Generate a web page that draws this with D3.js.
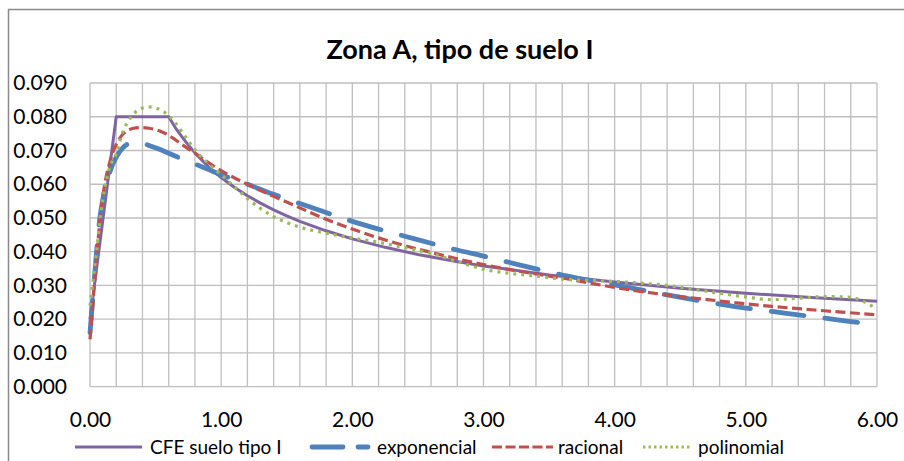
<!DOCTYPE html>
<html>
<head>
<meta charset="utf-8">
<script src="https://cdn.jsdelivr.net/npm/d3@7"></script>
<style>
  html, body { margin: 0; padding: 0; background: #fff; }
  svg { display: block; font-family: Lato, "Open Sans", sans-serif; }
</style>
</head>
<body>
<svg id="chart" width="904" height="461"></svg>
<script>
// ---- data ----
const chartTitle = "Zona A, tipo de suelo I";
const seriesNames = ["CFE suelo tipo I", "exponencial", "racional", "polinomial"];

const cfeT = [0, 0.2, 0.6, 0.65, 0.7, 0.75, 0.8, 0.9, 1.0, 1.1, 1.2, 1.3, 1.4, 1.5, 1.6, 1.8, 2.0, 2.25, 2.5, 2.75, 3.0, 3.5, 4.0, 4.5, 5.0, 5.5, 6.0];
const cfeV = [0.020, 0.080, 0.080, 0.0768, 0.0741, 0.0716, 0.0693, 0.0653, 0.0620, 0.0591, 0.0566, 0.0544, 0.0524, 0.0506, 0.0490, 0.0462, 0.0438, 0.0413, 0.0392, 0.0374, 0.0358, 0.0331, 0.0310, 0.0292, 0.0277, 0.0264, 0.0253];

const expT = [0, 0.025, 0.05, 0.075, 0.1, 0.15, 0.2, 0.25, 0.3, 0.35, 0.4, 0.5, 0.6, 0.7, 0.8, 0.9, 1.0, 1.2, 1.4, 1.6, 1.8, 2.0, 2.2, 2.4, 2.6, 2.8, 3.0, 3.2, 3.4, 3.6, 3.8, 4.0, 4.2, 4.4, 4.6, 4.8, 5.0, 5.2, 5.4, 5.6, 5.8, 6.0];
const expV = [0.016, 0.028, 0.040, 0.050, 0.056, 0.0635, 0.068, 0.0708, 0.0721, 0.0724, 0.0721, 0.0708, 0.0692, 0.0675, 0.0660, 0.0644, 0.0628, 0.0600, 0.0570, 0.0543, 0.0516, 0.0490, 0.0467, 0.0446, 0.0425, 0.0405, 0.0387, 0.0368, 0.0349, 0.0331, 0.0316, 0.0302, 0.0287, 0.0272, 0.0258, 0.0245, 0.0233, 0.0223, 0.0213, 0.0203, 0.0193, 0.0183];

const racT = [0, 0.025, 0.05, 0.075, 0.1, 0.15, 0.2, 0.25, 0.3, 0.35, 0.4, 0.45, 0.5, 0.55, 0.6, 0.65, 0.7, 0.75, 0.8, 0.9, 1.0, 1.2, 1.4, 1.6, 1.8, 2.0, 2.2, 2.4, 2.6, 2.8, 3.0, 3.2, 3.4, 3.6, 3.8, 4.0, 4.4, 4.8, 5.2, 5.6, 6.0];
const racV = [0.014, 0.026, 0.038, 0.049, 0.057, 0.0665, 0.0718, 0.0748, 0.0762, 0.0767, 0.0768, 0.0766, 0.0762, 0.0755, 0.0745, 0.0732, 0.0718, 0.0705, 0.0692, 0.0665, 0.0640, 0.0600, 0.0564, 0.0530, 0.0496, 0.0467, 0.0441, 0.0418, 0.0398, 0.0379, 0.0362, 0.0347, 0.0334, 0.0322, 0.0308, 0.0294, 0.0272, 0.0254, 0.0238, 0.0225, 0.0213];

const polT = [0, 0.025, 0.05, 0.075, 0.1, 0.15, 0.2, 0.25, 0.3, 0.35, 0.4, 0.45, 0.5, 0.55, 0.6, 0.65, 0.7, 0.75, 0.8, 0.9, 1.0, 1.1, 1.2, 1.4, 1.6, 1.8, 2.0, 2.2, 2.4, 2.6, 2.8, 3.0, 3.2, 3.4, 3.6, 3.8, 4.0, 4.2, 4.4, 4.6, 4.8, 5.0, 5.2, 5.4, 5.6, 5.8, 5.9, 6.0];
const polV = [0.024, 0.032, 0.040, 0.049, 0.056, 0.065, 0.069, 0.0755, 0.0792, 0.0815, 0.0826, 0.0829, 0.0826, 0.0818, 0.0803, 0.0782, 0.0756, 0.0728, 0.0702, 0.0662, 0.0628, 0.0593, 0.0558, 0.0504, 0.0473, 0.0455, 0.0441, 0.0428, 0.0412, 0.0395, 0.0371, 0.0348, 0.0336, 0.0328, 0.0319, 0.0315, 0.0312, 0.0307, 0.0300, 0.0289, 0.0277, 0.0266, 0.0258, 0.0262, 0.0267, 0.0265, 0.0252, 0.0230];

const xTickValues = [0, 1, 2, 3, 4, 5, 6];
const yTickValues = [0, 0.01, 0.02, 0.03, 0.04, 0.05, 0.06, 0.07, 0.08, 0.09];

// ---- layout ----
const W = 904, H = 461;
const plot = { left: 90, right: 877, top: 83, bottom: 386.7 };
const svg = d3.select("#chart");

const x = d3.scaleLinear().domain([0, 6]).range([plot.left, plot.right]);
const y = d3.scaleLinear().domain([0, 0.09]).range([plot.bottom, plot.top]);

// outer chart border
svg.append("path")
  .attr("d", `M8.5,${H + 2} L8.5,9.5 L${W + 2},9.5`)
  .attr("fill", "none").attr("stroke", "#8a8a8a").attr("stroke-width", 1.5);

// title
svg.append("text")
  .attr("x", 460).attr("y", 58.5)
  .attr("text-anchor", "middle")
  .attr("font-weight", "bold").attr("font-size", 27).attr("fill", "#000")
  .text(chartTitle);

// gridlines
const grid = svg.append("g").attr("stroke", "#bfbfbf").attr("stroke-width", 1.3);
grid.selectAll("line.v").data(x.ticks(30)).join("line")
  .attr("x1", d => x(d)).attr("x2", d => x(d))
  .attr("y1", plot.top).attr("y2", plot.bottom);
grid.selectAll("line.h").data(y.ticks(9)).join("line")
  .attr("x1", plot.left).attr("x2", plot.right)
  .attr("y1", d => y(d)).attr("y2", d => y(d));

// axes (labels only)
const yAxis = svg.append("g").attr("transform", `translate(${plot.left},0)`)
  .call(d3.axisLeft(y).tickValues(yTickValues).tickFormat(d3.format(".3f")).tickSize(0).tickPadding(23));
const xAxis = svg.append("g").attr("transform", `translate(0,${plot.bottom})`)
  .call(d3.axisBottom(x).tickValues(xTickValues).tickFormat(d3.format(".2f")).tickSize(0).tickPadding(25));
[yAxis, xAxis].forEach(g => {
  g.select(".domain").remove();
  g.selectAll("text").attr("font-size", 21).attr("fill", "#000")
    .attr("font-family", "Lato, 'Open Sans', sans-serif");
});

// series
const styles = [
  { color: "#8064A2", width: 3, dash: null, cap: "butt" },
  { color: "#4F81BD", width: 4.8, dash: "33,21", cap: "round" },
  { color: "#C0504D", width: 3.2, dash: "10,4.5", cap: "butt" },
  { color: "#9BBB59", width: 3.2, dash: "3,5", cap: "butt" }
];
const seriesT = [cfeT, expT, racT, polT];
const seriesV = [cfeV, expV, racV, polV];

const lineLinear = d3.line().x(d => x(d[0])).y(d => y(d[1]));
const lineSmooth = d3.line().x(d => x(d[0])).y(d => y(d[1])).curve(d3.curveMonotoneX);

seriesNames.forEach((name, i) => {
  const pts = seriesT[i].map((t, k) => [t, seriesV[i][k]]);
  const st = styles[i];
  svg.append("path")
    .datum(pts)
    .attr("d", i === 0 ? lineLinear : lineSmooth)
    .attr("fill", "none")
    .attr("stroke", st.color)
    .attr("stroke-width", st.width)
    .attr("stroke-linecap", st.cap)
    .attr("stroke-linejoin", "round")
    .attr("stroke-dasharray", st.dash);
});

// legend
const legendItems = [
  { x1: 75, x2: 142, tx: 150, dash: null },
  { x1: 312, x2: 368, tx: 377, dash: "31,15" },
  { x1: 492, x2: 553, tx: 558, dash: "10,3.5" },
  { x1: 643, x2: 690, tx: 698, dash: "2.5,3" }
];
const legendY = 447;
legendItems.forEach((it, i) => {
  const st = styles[i];
  svg.append("line")
    .attr("x1", it.x1).attr("x2", it.x2).attr("y1", legendY).attr("y2", legendY)
    .attr("stroke", st.color).attr("stroke-width", st.width)
    .attr("stroke-linecap", st.cap).attr("stroke-dasharray", it.dash);
  svg.append("text")
    .attr("x", it.tx).attr("y", legendY).attr("dy", "0.35em")
    .attr("font-size", 19).attr("fill", "#000")
    .text(seriesNames[i]);
});
</script>
</body>
</html>
